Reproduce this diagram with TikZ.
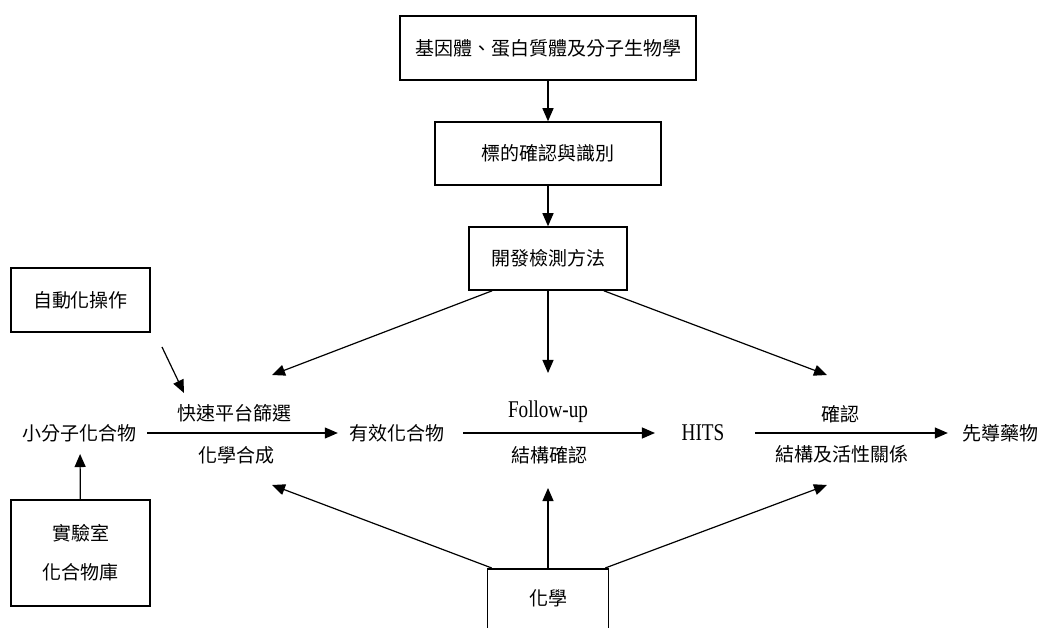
\documentclass[tikz,border=0pt]{standalone}
\usepackage{fontspec}
\usepackage{graphicx}
\setmainfont{Liberation Serif}
\newfontfamily\cjk{Noto Sans CJK TC}
\usetikzlibrary{arrows.meta,calc}
\begin{document}
\begin{tikzpicture}[x=1pt,y=-1pt,
  box/.style={draw,line width=1.5pt,inner sep=0pt,font=\cjk\fontsize{19}{23}\selectfont},
  txt/.style={inner sep=0pt,font=\cjk\fontsize{19}{23}\selectfont},
  lat/.style={inner sep=0pt,font=\fontsize{24}{28}\selectfont},
  arr/.style={line width=1.2pt,-{Triangle[length=13pt,width=11pt]}},
]
\clip (0,0) rectangle (1045,628);

% top column
\node[box,minimum width=296pt,minimum height=64pt] (top1) at (548,48) {基因體、蛋白質體及分子生物學};
\node[box,minimum width=226pt,minimum height=63pt] (top2) at (548,153.5) {標的確認與識別};
\node[box,minimum width=158pt,minimum height=63pt] (top3) at (548,258.5) {開發檢測方法};

% left boxes
\node[box,minimum width=139pt,minimum height=64pt] (auto) at (80.5,300) {自動化操作};
\node[box,minimum width=139pt,minimum height=106pt,align=center] (lab) at (80.5,553) {實驗室\\[16pt]化合物庫};

% bottom box (cut by the page edge)
\node[box,minimum width=121pt,minimum height=100pt,anchor=north] (chem) at (548,568) {};
\node[txt] (chemtext) at (548,598) {化學};

% main row
\node[txt] (small) at (80,433) {小分子化合物};
\node[txt] (fast) at (234,413) {快速平台篩選};
\node[txt] (synth) at (236,455) {化學合成};
\node[txt] (eff) at (397,433) {有效化合物};
\node[lat] (follow) at (548,412) {\scalebox{0.8}[1]{Follow-up}};
\node[txt] (struct) at (549,455) {結構確認};
\node[lat] (hits) at (703,433) {\scalebox{0.8}[1]{HITS}};
\node[txt] (conf) at (840,414) {確認};
\node[txt] (sar) at (842,454) {結構及活性關係};
\node[txt] (lead) at (1000,433) {先導藥物};

% free arrow ends
\coordinate (autostart) at (162,347);
\coordinate (autotip) at (184,393);
\coordinate (tl) at (272,375);
\coordinate (tm) at (548,373);
\coordinate (tr) at (827,375);
\coordinate (bl) at (272,485);
\coordinate (bm) at (548,488);
\coordinate (br) at (827,485);

% connectors
\draw[arr] (top1) -- (top2);
\draw[arr] (top2) -- (top3);
\draw[arr] (autostart) -- (autotip);
\draw[arr,shorten >=12pt] (lab) -- (small);
\draw[arr,shorten <=10pt,shorten >=11.5pt] (small.east) -- (eff.west);
\draw[arr,shorten <=18.5pt,shorten >=26.5pt] (eff.east) -- (hits.west);
\draw[arr,shorten <=30.5pt,shorten >=14pt] (hits.east) -- (lead.west);

\draw[arr] ($(top3.south west)+(24,0)$) -- (tl);
\draw[arr] (top3.south) -- (tm);
\draw[arr] ($(top3.south east)+(-24,0)$) -- (tr);

\draw[arr] ($(chem.north west)+(5,0)$) -- (bl);
\draw[arr] (chem.north) -- (bm);
\draw[arr] ($(chem.north east)+(-4,0)$) -- (br);
\end{tikzpicture}
\end{document}
